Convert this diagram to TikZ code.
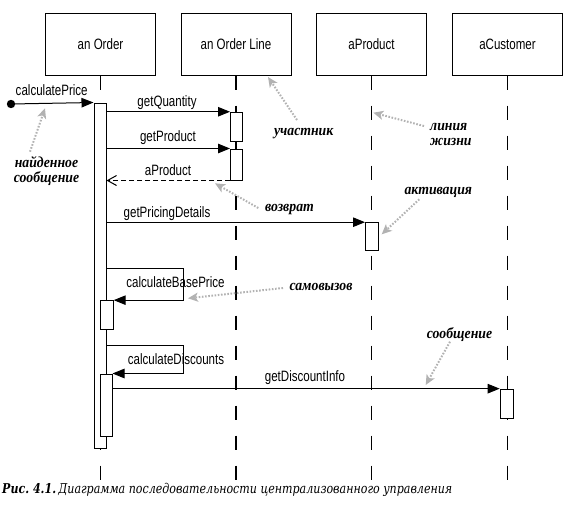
\documentclass[tikz,border=0pt]{standalone}
\usepackage{fontspec}
\setmainfont{Liberation Sans}[FakeStretch=0.77]
\newfontfamily\notefont{Liberation Serif}[FakeStretch=0.9]
\newfontfamily\capfont{DejaVu Serif}[FakeStretch=0.82]
\usetikzlibrary{arrows.meta}

\begin{document}
\begin{tikzpicture}[x=1pt,y=-1pt,
  lab/.style={font=\fontsize{15}{17}\selectfont, inner sep=0pt, anchor=base},
  participant/.style={draw, line width=1pt, minimum width=110pt, minimum height=61pt,
    inner sep=0pt, font=\fontsize{15}{17}\selectfont},
  lifeline/.style={line width=1.1pt, dash pattern=on 14pt off 16pt},
  act/.style={draw, fill=white, line width=1pt, minimum width=12pt, inner sep=0pt},
  msg/.style={line width=1pt, -{Triangle[length=12pt,width=9.5pt]}},
  selfmsg/.style={line width=1pt, -{Triangle[length=12pt,width=9.5pt]}},
  ret/.style={line width=1pt, dash pattern=on 5pt off 3pt,
    -{Straight Barb[length=9pt,width=10pt,line width=1pt]}},
  note/.style={font=\notefont\bfseries\itshape\fontsize{15.3}{15}\selectfont,
    inner sep=0pt, anchor=base},
  pointer/.style={draw=gray!60, line width=2pt, dash pattern=on 1.6pt off 1.6pt,
    -{Stealth[length=10pt,width=9pt,inset=2.5pt,fill=gray!60]}}
]
\path[use as bounding box] (0,0) rectangle (567,511);

% participants
\node[participant] (pO) at (100.5,44.5) {an Order};
\node[participant] (pL) at (236,44.5) {an Order Line};
\node[participant] (pP) at (371.5,44.5) {aProduct};
\node[participant] (pC) at (507.5,44.5) {aCustomer};

% lifelines
\foreach \p in {pO,pL,pP,pC}
  \draw[lifeline] (\p.south) -- ++(0,404);

% activation bars
\node[act, minimum height=345pt] (aO) at (100,275.5) {};
\node[act, minimum height=29.5pt] (aL1) at (236.5,127) {};
\node[act, minimum height=31pt] (aL2) at (236.5,164.5) {};
\node[act, minimum width=13pt, minimum height=28pt] (aP) at (372,236.7) {};
\node[act, minimum width=13pt, minimum height=29.7pt] (aC) at (506.7,404) {};
\node[act, minimum width=13pt, minimum height=29.3pt] (aB) at (106.7,315.3) {};
\node[act, minimum height=62pt] (aD) at (106,405) {};

% found message
\fill (11,104) circle[radius=4.2pt] coordinate (found);
\draw[msg] (found) -- (aO.north west);
\node[lab] (lPrice) at (51.7,95) {calculatePrice};

% calls to the order line
\draw[msg] (aO.east |- aL1.north west) -- (aL1.north west);
\node[lab] (lQty) at (167,106) {getQuantity};
\draw[msg] (aO.east |- aL2.north west) -- (aL2.north west);
\node[lab] (lProd) at (168,141.7) {getProduct};
\draw[ret] (aL2.south west) -- (aO.east |- aL2.south west);
\node[lab] (lRet) at (168,175) {aProduct};

% call to the product
\draw[msg] (aO.east |- aP.north west) -- (aP.north west);
\node[lab] (lPricing) at (167,217.3) {getPricingDetails};

% self calls
\coordinate (bpTop) at (183,268);
\draw[selfmsg] (aO.east |- bpTop) -- (bpTop) -- (bpTop |- aB.north east) -- (aB.north east);
\node[lab] (lBase) at (175.5,287.3) {calculateBasePrice};
\coordinate (dcTop) at (183,345);
\draw[selfmsg] (aO.east |- dcTop) -- (dcTop) -- (dcTop |- aD.north east) -- (aD.north east);
\node[lab] (lDisc) at (176,364.3) {calculateDiscounts};

% call to the customer
\draw[msg] (aD.east |- aC.north west) -- (aC.north west);
\node[lab] (lInfo) at (305,381.7) {getDiscountInfo};

% notes with pointers (base anchor of a two-line note is its last line)
\node[note, align=center, anchor=base] (nFound) at (46.5,182) {найденное\\сообщение};
\coordinate (tFound) at (45,108.3);
\draw[pointer] (30,151.7) coordinate (sFound) -- (tFound);

\node[note] (nPart) at (303.7,135.5) {участник};
\coordinate (tPart) at (268,77);
\draw[pointer] (297,120) coordinate (sPart) -- (tPart);

\node[note, align=left, anchor=base west] (nLife) at (430,145.5) {линия\\жизни};
\coordinate (tLife) at (373.3,112.7);
\draw[pointer] (424,126) coordinate (sLife) -- (tLife);

\node[note] (nRet) at (289.5,211.7) {возврат};
\coordinate (tRet) at (215,183.3);
\draw[pointer] (258.3,208) coordinate (sRet) -- (tRet);

\node[note] (nAct) at (438.3,194.3) {активация};
\coordinate (tAct) at (381.7,234.3);
\draw[pointer] (419.3,199.3) coordinate (sAct) -- (tAct);

\node[note] (nSelf) at (321,290.7) {самовызов};
\coordinate (tSelf) at (188,298.3);
\draw[pointer] (283,288) coordinate (sSelf) -- (tSelf);

\node[note] (nMsg) at (459.5,338.3) {сообщение};
\coordinate (tMsg) at (425.7,385);
\draw[pointer] (450,341.7) coordinate (sMsg) -- (tMsg);

% caption
\node[anchor=base west, inner sep=0pt, font=\capfont\fontsize{13.5}{16}\selectfont]
  (caption) at (2,493.3)
  {\textbf{\textit{Рис.~4.1.}}\,\textit{Диаграмма последовательности централизованного управления}};
\end{tikzpicture}
\end{document}
